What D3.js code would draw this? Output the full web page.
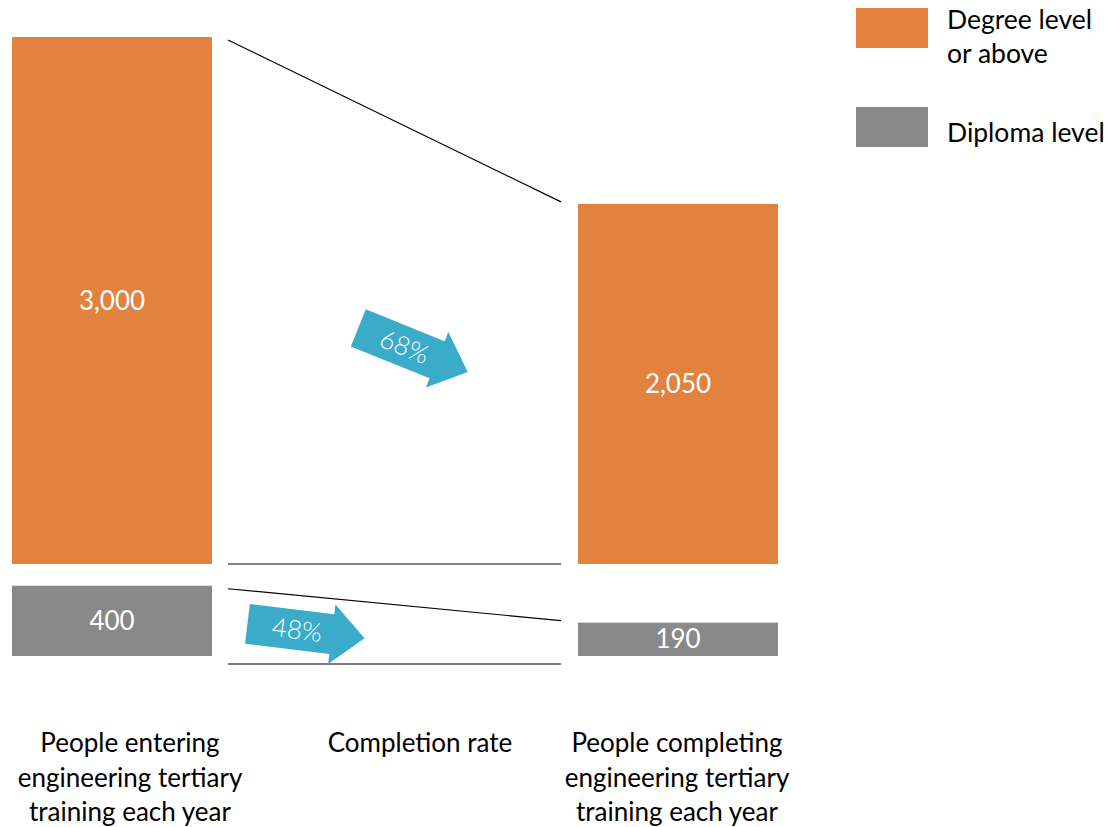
<!DOCTYPE html>
<html>
<head>
<meta charset="utf-8">
<script src="https://cdn.jsdelivr.net/npm/d3@7"></script>
<style>
  body { margin: 0; background: #fff; }
  text { font-family: Lato, "Liberation Sans", sans-serif; }
</style>
</head>
<body>
<div id="chart"></div>
<script>
// data
var series = ["Degree level or above", "Diploma level"];
var entering = [3000, 400];
var completing = [2050, 190];
var rates = ["68%", "48%"];
var columnLabels = [
  ["People entering", "engineering tertiary", "training each year"],
  ["Completion rate"],
  ["People completing", "engineering tertiary", "training each year"]
];
var legendLabels = [["Degree level", "or above"], ["Diploma level"]];

var colors = ["#e3823f", "#898989"];
var arrowColor = "#3aabc8";

var svgWidth = 1109;
var svgHeight = 827;

var svg = d3.select("#chart")
  .append("svg")
  .attr("width", svgWidth)
  .attr("height", svgHeight);

// column positions
var barW = 200;
var barX = [12, 578];          // left edges of entering / completing bars
var labelX = [130, 420, 677];  // centres of the column captions

// height scale (same units for both series), baselines per series
var h = d3.scaleLinear().domain([0, 3000]).range([0, 527]);
var baselines = [564, 656];

function barTop(v, i) { return baselines[i] - h(v); }

// bars
[entering, completing].forEach(function (vals, c) {
  var bx = barX[c];
  svg.selectAll(".bar" + c)
    .data(vals)
    .enter()
    .append("rect")
    .attr("x", bx)
    .attr("y", (d, i) => barTop(d, i))
    .attr("width", barW)
    .attr("height", d => h(d))
    .attr("fill", (d, i) => colors[i]);

  svg.selectAll(".val" + c)
    .data(vals)
    .enter()
    .append("text")
    .attr("x", bx + barW / 2)
    .attr("y", (d, i) => barTop(d, i) + h(d) / 2)
    .attr("dy", "0.35em")
    .attr("text-anchor", "middle")
    .attr("fill", "white")
    .attr("font-size", 26)
    .text(d => d3.format(",")(d));
});

// connecting lines
var lx1 = 228, lx2 = 561;
series.forEach(function (s, i) {
  svg.append("line")
    .attr("x1", lx1).attr("x2", lx2)
    .attr("y1", barTop(entering[i], i) + 3)
    .attr("y2", barTop(completing[i], i) - 2)
    .attr("stroke", "black").attr("stroke-width", 1.2);
  svg.append("line")
    .attr("x1", lx1).attr("x2", lx2)
    .attr("y1", baselines[i] + (i === 1 ? 8 : 0))
    .attr("y2", baselines[i] + (i === 1 ? 8 : 0))
    .attr("stroke", "black").attr("stroke-width", 1.2);
});

// arrows
var arrowPos = [{ cx: 413, cy: 350, rot: 22 }, { cx: 306, cy: 631, rot: 7 }];
var L = 118, bw = 20, hw = 30, hl = 33;
var arrowPath = d3.line()([
  [-L / 2, -bw], [L / 2 - hl, -bw], [L / 2 - hl, -hw], [L / 2, 0],
  [L / 2 - hl, hw], [L / 2 - hl, bw], [-L / 2, bw]
]) + "Z";

var arrows = svg.selectAll(".arrow")
  .data(rates)
  .enter()
  .append("g")
  .attr("transform", (d, i) => `translate(${arrowPos[i].cx}, ${arrowPos[i].cy}) rotate(${arrowPos[i].rot})`);

arrows.append("path")
  .attr("d", arrowPath)
  .attr("fill", arrowColor);

arrows.append("text")
  .attr("x", -9)
  .attr("dy", "0.35em")
  .attr("text-anchor", "middle")
  .attr("fill", "white")
  .attr("font-size", 26)
  .attr("font-weight", 300)
  .text(d => d);

// column labels
columnLabels.forEach(function (lines, c) {
  svg.append("text")
    .attr("text-anchor", "middle")
    .attr("font-size", 26)
    .attr("fill", "black")
    .selectAll("tspan")
    .data(lines)
    .enter()
    .append("tspan")
    .attr("x", labelX[c])
    .attr("y", (d, i) => 752 + i * 34.5)
    .text(d => d);
});

// legend
var legend = svg.selectAll(".legend")
  .data(series)
  .enter()
  .append("g")
  .attr("transform", (d, i) => `translate(856, ${8 + i * 99})`);

legend.append("rect")
  .attr("width", 72)
  .attr("height", 40)
  .attr("fill", (d, i) => colors[i]);

legend.append("text")
  .attr("font-size", 26.5)
  .attr("fill", "black")
  .each(function (d, i) {
    var lines = legendLabels[i];
    d3.select(this).selectAll("tspan")
      .data(lines)
      .enter()
      .append("tspan")
      .attr("x", 91)
      .attr("y", (t, j) => (i === 0 ? 21 : 35) + j * 34)
      .text(t => t);
  });
</script>
</body>
</html>
